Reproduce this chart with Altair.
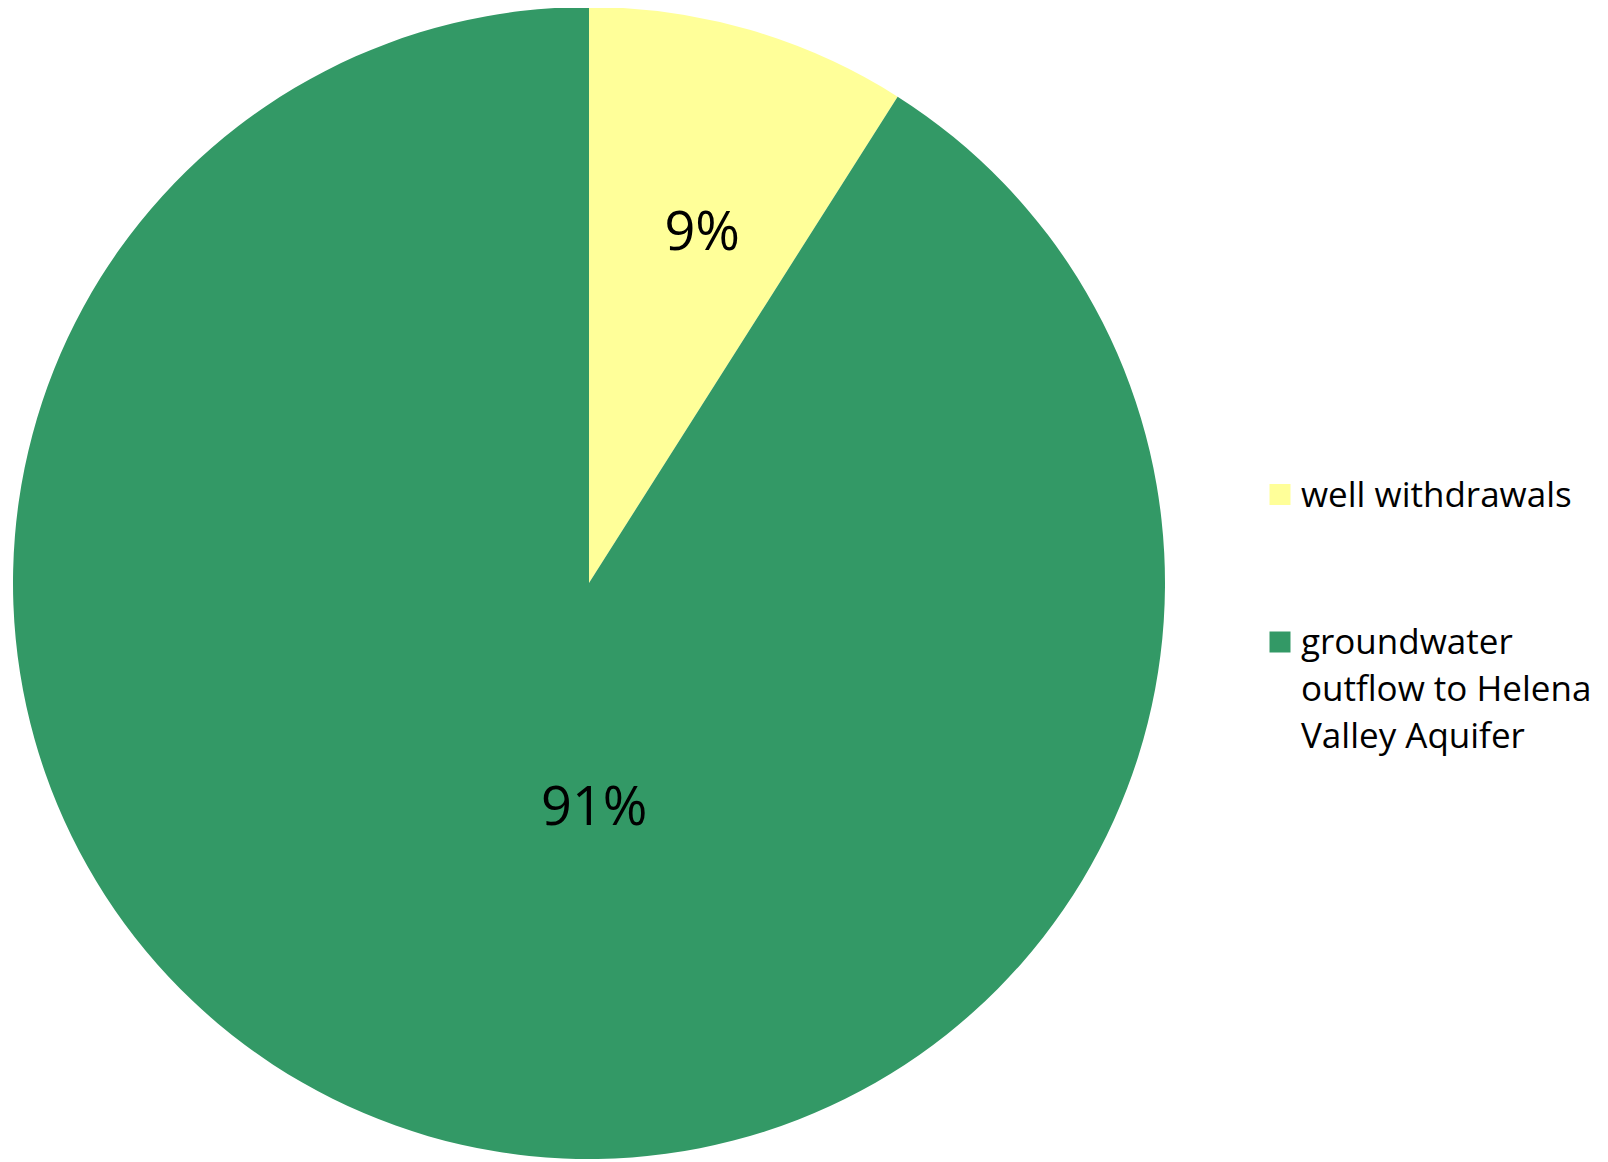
import altair as alt
import pandas as pd

categories = ["well withdrawals", "groundwater outflow to Helena Valley Aquifer"]
shares = [9, 91]
pct_labels = ["9%", "91%"]
legend_lines = [["well withdrawals"], ["groundwater", "outflow to Helena", "Valley Aquifer"]]
slice_order = [0, 1]
colors = ["#FFFF99", "#339966"]

df = pd.DataFrame({
    "category": categories,
    "share": shares,
    "label": pct_labels,
    "lines": legend_lines,
    "order": slice_order,
})

CX, CY = 581, 575

color = alt.Color("category:N", scale=alt.Scale(domain=categories, range=colors), legend=None)
base = alt.Chart(df)

pie = base.mark_arc(outerRadius=576).encode(
    theta=alt.Theta("share:Q", stack=True),
    color=color,
    order=alt.Order("order:Q", sort="ascending"),
    x=alt.value(CX),
    y=alt.value(CY),
)

lab_base = base.transform_window(
    cum="sum(share)", sort=[alt.SortField("order")], frame=[None, 0]
).transform_calculate(mid="datum.cum - datum.share / 2")

txt_style = dict(font="Open Sans", fontSize=54, color="#000000", align="center", baseline="middle")

small = lab_base.transform_filter("datum.order == 0").mark_text(
    radius=370, dx=10, dy=6, **txt_style
).encode(theta=alt.Theta("mid:Q", stack=None), text="label:N",
         x=alt.value(CX), y=alt.value(CY))

big = lab_base.transform_filter("datum.order == 1").mark_text(
    radius=225, dx=68, dy=10, **txt_style
).encode(theta=alt.Theta("mid:Q", stack=None), text="label:N",
         x=alt.value(CX), y=alt.value(CY))

leg_y = alt.Y(
    "category:N",
    scale=alt.Scale(type="point", domain=categories, range=[486.5, 634], padding=0),
    axis=None,
)

squares = base.mark_square(size=441, opacity=1, strokeWidth=0).encode(
    x=alt.value(1272), y=leg_y, color=color
)

leg_text = base.mark_text(
    align="left", baseline="alphabetic", dy=12, fontSize=35, font="Open Sans",
    lineHeight=47, color="#000000"
).encode(x=alt.value(1293), y=leg_y, text="lines")

chart = alt.layer(pie, small, big, squares, leg_text).properties(
    width=1162,
    height=1154,
    padding={"left": 0, "top": 0, "right": 426, "bottom": 0},
    autosize=alt.AutoSizeParams(type="none"),
).configure_view(stroke=None)

chart.save("out.html", embed_options={"renderer": "svg", "actions": False})
